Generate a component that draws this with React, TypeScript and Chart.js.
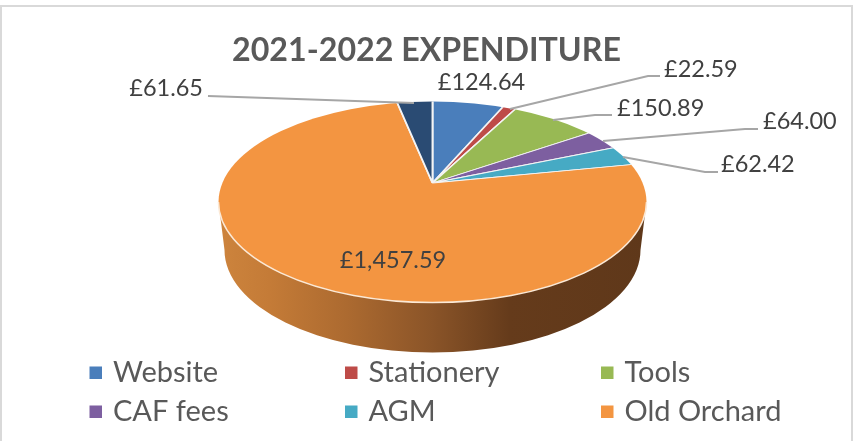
import React, { useEffect, useRef } from "react";
import { Chart, registerables } from "chart.js";

Chart.register(...registerables);

const TITLE = "2021-2022 EXPENDITURE";
const categories = ["Website", "Stationery", "Tools", "CAF fees", "AGM", "Old Orchard", ""];
const amounts = [124.64, 22.59, 150.89, 64.0, 62.42, 1457.59, 61.65];
const sliceColors = ["#4A7EBB", "#BE4B48", "#98B954", "#7D5FA0", "#46AAC4", "#F39541", "#2A4B73"];

const FONT = "Lato, 'Open Sans', sans-serif";
const money = (v: number) =>
  "£" + v.toLocaleString("en-GB", { minimumFractionDigits: 2, maximumFractionDigits: 2 });

// Geometry of the tilted pie on the page
const APEX = { x: 432.5, y: 183 };
const TOP = { cx: 432.5, cy: 202, rx: 214, ry: 100.5 };
const BASE = { cx: 432.5, cy: 250, rx: 208, ry: 102.5 };
const TILT = 0.46;

// Label placement: [text x, text y, align, ...leader polyline]
const labelPlacement: [number, number, CanvasTextAlign, number[]][] = [
  [481.5, 82, "center", []],
  [664, 69, "left", [660, 76, 648, 76, 510, 109]],
  [617, 108, "left", [612, 115, 595, 115, 553, 120]],
  [763, 121, "left", [758, 129, 745, 129, 603, 141]],
  [721, 164, "left", [718, 172, 705, 172, 623, 157]],
  [393, 260, "center", []],
  [203, 88, "right", [208, 96, 414, 103]],
];

const legendCols = [89.5, 345, 601];
const legendRows = [373, 412];

const tiltPlugin = {
  id: "tilt",
  beforeDraw(chart: any) {
    const { ctx, width, height } = chart;
    ctx.save();
    ctx.fillStyle = "#FFFFFF";
    ctx.fillRect(0, 0, width, height);
    ctx.strokeStyle = "#D9D9D9";
    ctx.lineWidth = 2;
    ctx.strokeRect(1, 6, width - 2, height + 10);
    ctx.restore();
  },
  beforeDatasetsDraw(chart: any) {
    const { ctx } = chart;
    const arc = chart.getDatasetMeta(0).data[0];
    ctx.save();
    // side wall of the disc
    const grad = ctx.createLinearGradient(TOP.cx - TOP.rx, 0, TOP.cx + TOP.rx, 0);
    grad.addColorStop(0, "#CD843D");
    grad.addColorStop(0.12, "#C47B37");
    grad.addColorStop(0.3, "#AC6A30");
    grad.addColorStop(0.5, "#8A5428");
    grad.addColorStop(0.68, "#653B1B");
    grad.addColorStop(1, "#5F381A");
    ctx.beginPath();
    ctx.moveTo(TOP.cx - TOP.rx, TOP.cy);
    ctx.ellipse(BASE.cx, BASE.cy, BASE.rx, BASE.ry, 0, Math.PI, 0, true);
    ctx.lineTo(TOP.cx + TOP.rx, TOP.cy);
    ctx.closePath();
    ctx.fillStyle = grad;
    ctx.fill();
    // top face: the library's arcs, seen through the tilt
    ctx.beginPath();
    ctx.ellipse(TOP.cx, TOP.cy, TOP.rx, TOP.ry, 0, 0, Math.PI * 2);
    ctx.clip();
    const s = 275 / arc.outerRadius;
    ctx.translate(APEX.x, APEX.y);
    ctx.scale(s, s * TILT);
    ctx.translate(-arc.x, -arc.y);
  },
  afterDatasetsDraw(chart: any) {
    const { ctx } = chart;
    ctx.restore();
    ctx.save();
    ctx.beginPath();
    ctx.ellipse(TOP.cx, TOP.cy, TOP.rx, TOP.ry, 0, 0, Math.PI);
    ctx.strokeStyle = "#FBE9D6";
    ctx.lineWidth = 1.5;
    ctx.stroke();
    ctx.restore();
  },
  afterDraw(chart: any) {
    const { ctx } = chart;
    const values: number[] = chart.data.datasets[0].data;
    const colors: string[] = chart.data.datasets[0].backgroundColor;
    ctx.save();
    // leaders and value labels
    ctx.strokeStyle = "#A6A6A6";
    ctx.lineWidth = 1.8;
    ctx.font = `23.5px ${FONT}`;
    ctx.fillStyle = "#404040";
    ctx.textBaseline = "middle";
    values.forEach((v, i) => {
      const [x, y, align, line] = labelPlacement[i];
      if (line.length) {
        ctx.beginPath();
        ctx.moveTo(line[0], line[1]);
        for (let k = 2; k < line.length; k += 2) ctx.lineTo(line[k], line[k + 1]);
        ctx.stroke();
      }
      ctx.textAlign = align;
      ctx.fillText(money(v), x, y);
    });
    // legend
    ctx.font = `29px ${FONT}`;
    ctx.textAlign = "left";
    (chart.data.labels as string[]).forEach((name, i) => {
      if (!name) return;
      const x = legendCols[i % 3];
      const y = legendRows[Math.floor(i / 3)];
      ctx.fillStyle = colors[i];
      ctx.fillRect(x, y - 6.5, 12.5, 12.5);
      ctx.fillStyle = "#595959";
      ctx.fillText(name, x + 23.5, y);
    });
    ctx.restore();
  },
};

export default function App() {
  const ref = useRef<HTMLCanvasElement>(null);
  useEffect(() => {
    const chart = new Chart(ref.current!, {
      type: "pie",
      data: {
        labels: categories,
        datasets: [
          {
            data: amounts,
            backgroundColor: sliceColors,
            borderColor: "#F4F4F4",
            borderWidth: 1.3,
            clip: false,
          } as any,
        ],
      },
      options: {
        responsive: false,
        animation: false,
        events: [],
        layout: { padding: 0 },
        plugins: {
          legend: { display: false },
          tooltip: { enabled: false },
          title: {
            display: true,
            text: TITLE,
            color: "#595959",
            font: { family: FONT, size: 32.2, weight: "bold" },
            padding: { top: 31, bottom: 0 },
          },
        },
      },
      plugins: [tiltPlugin],
    });
    return () => chart.destroy();
  }, []);
  return (
    <div style={{ position: "fixed", left: 0, top: 0, width: 853, height: 441, background: "#fff" }}>
      <canvas ref={ref} width={853} height={441} style={{ display: "block", width: 853, height: 441 }} />
    </div>
  );
}
